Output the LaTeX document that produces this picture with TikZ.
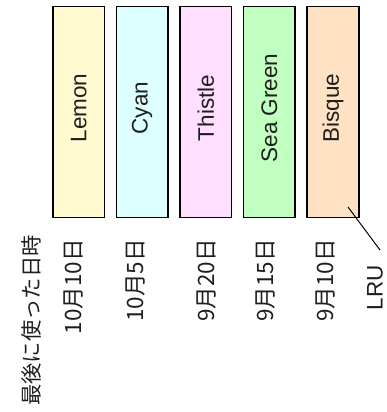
\documentclass[tikz,border=0pt]{standalone}
\usepackage{fontspec}
\setmainfont{Liberation Sans}
\newfontfamily\jp{Noto Sans CJK JP}
\definecolor{lemonc}{RGB}{255,250,208}
\definecolor{cyanc}{RGB}{222,255,255}
\definecolor{thistlec}{RGB}{255,222,255}
\definecolor{seagreenc}{RGB}{192,255,192}
\definecolor{bisquec}{RGB}{255,226,196}
\definecolor{txt}{RGB}{30,30,30}
\begin{document}
\begin{tikzpicture}[x=1pt,y=-1pt,
  cbox/.style={draw=black,line width=1.4pt,minimum width=51.7pt,minimum height=210.7pt,inner sep=0pt},
  clabel/.style={rotate=90,font=\fontsize{22.5}{26}\selectfont,text=txt,inner sep=0pt},
  dlabel/.style={rotate=90,anchor=east,font=\jp\fontsize{22.5}{26}\selectfont,text=txt,inner sep=0pt},
  link/.style={draw=black,line width=1pt}]
\useasboundingbox (0,0) rectangle (387,412);
\node[cbox,fill=lemonc]    (lemon)    at (78.7,112) {};
\node[cbox,fill=cyanc]     (cyan)     at (142.2,112) {};
\node[cbox,fill=thistlec]  (thistle)  at (205.8,112) {};
\node[cbox,fill=seagreenc] (seagreen) at (269.3,112) {};
\node[cbox,fill=bisquec]   (bisque)   at (333,112) {};
\node[clabel] (tlemon)    at (78.7,108) {Lemon};
\node[clabel] (tcyan)     at (142.2,108) {Cyan};
\node[clabel] (tthistle)  at (205.8,108) {Thistle};
\node[clabel] (tseagreen) at (269.3,108) {Sea Green};
\node[clabel] (tbisque)   at (333,108) {Bisque};
\node[dlabel,font=\jp\fontsize{21.3}{25}\selectfont] (head) at (31,235) {最後に使った日時};
\node[dlabel] (d1) at (74,239) {10月10日};
\node[dlabel] (d2) at (136,239) {10月5日};
\node[dlabel] (d3) at (207,239) {9月20日};
\node[dlabel] (d4) at (266,239) {9月15日};
\node[dlabel] (d5) at (326,239) {9月10日};
\node[rotate=90,anchor=east,font=\fontsize{22.5}{26}\selectfont,text=txt,inner sep=0pt] (lru) at (375,265) {LRU};
\coordinate (lstart) at (348,207);
\coordinate (lend) at (380,250);
\draw[link] (lstart) -- (lend);
\end{tikzpicture}
\end{document}
